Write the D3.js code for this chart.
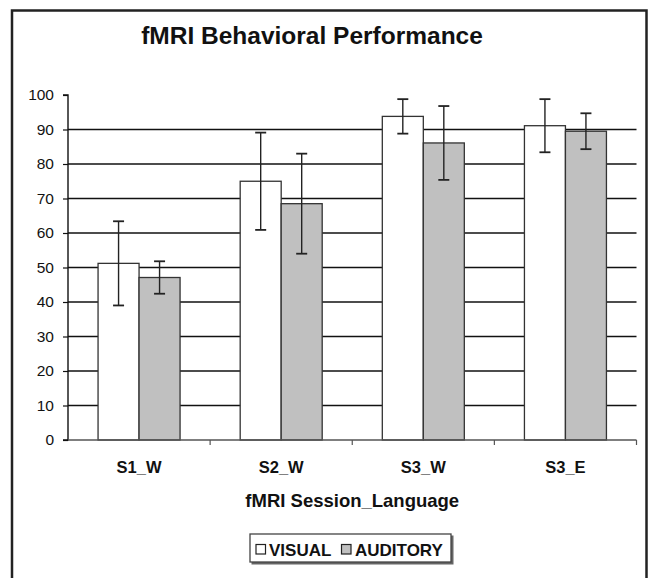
<!DOCTYPE html>
<html>
<head>
<meta charset="utf-8">
<script src="https://cdn.jsdelivr.net/npm/d3@7"></script>
<style>
  html, body { margin: 0; padding: 0; background: #fff; }
  svg { display: block; font-family: Arial, "Liberation Sans", sans-serif; }
</style>
</head>
<body>
<svg id="chart" width="649" height="578"></svg>
<script>
const categories = ["S1_W", "S2_W", "S3_W", "S3_E"];
const seriesNames = ["VISUAL", "AUDITORY"];
const visual = [51.2, 75.0, 93.8, 91.1];
const visualErr = [12.2, 14.1, 5.0, 7.7];
const auditory = [47.1, 68.5, 86.1, 89.5];
const auditoryErr = [4.7, 14.5, 10.7, 5.2];
const yTicks = [0, 10, 20, 30, 40, 50, 60, 70, 80, 90, 100];
const gridValues = [10, 20, 30, 40, 50, 60, 70, 80, 90];

const fills = ["#ffffff", "#c0c0c0"];

(function () {
const svg = d3.select("#chart");
const pLeft = 68, pRight = 636.5, pTop = 95, pBottom = 440;

// outer frame
svg.append("rect")
  .attr("x", 12).attr("y", 10.5).attr("width", 634.5).attr("height", 580)
  .attr("fill", "none").attr("stroke", "#222").attr("stroke-width", 2.5);

const x0 = d3.scaleBand().domain(categories).range([pLeft, pRight])
  .paddingInner(0.423).paddingOuter(0.2115);
const x1 = d3.scaleBand().domain(seriesNames).range([0, x0.bandwidth()]);
const y = d3.scaleLinear().domain([0, 100]).range([pBottom, pTop]);

// gridlines
svg.append("g").selectAll("line").data(gridValues).join("line")
  .attr("x1", pLeft).attr("x2", pRight)
  .attr("y1", d => y(d)).attr("y2", d => y(d))
  .attr("stroke", "#111").attr("stroke-width", 1.5);

// data table
const rows = categories.map((c, i) => ({
  cat: c,
  vals: [
    { s: seriesNames[0], v: visual[i], e: visualErr[i], fill: fills[0] },
    { s: seriesNames[1], v: auditory[i], e: auditoryErr[i], fill: fills[1] }
  ]
}));

const groups = svg.append("g").selectAll("g").data(rows).join("g")
  .attr("transform", d => `translate(${x0(d.cat)},0)`);

groups.selectAll("rect").data(d => d.vals).join("rect")
  .attr("x", d => x1(d.s))
  .attr("y", d => y(d.v))
  .attr("width", x1.bandwidth())
  .attr("height", d => pBottom - y(d.v))
  .attr("fill", d => d.fill)
  .attr("stroke", "#333").attr("stroke-width", 1.3);

// error bars
const eb = groups.selectAll("g.err").data(d => d.vals).join("g").attr("class", "err");
eb.append("line")
  .attr("x1", d => x1(d.s) + x1.bandwidth() / 2)
  .attr("x2", d => x1(d.s) + x1.bandwidth() / 2)
  .attr("y1", d => y(d.v + d.e)).attr("y2", d => y(d.v - d.e))
  .attr("stroke", "#222").attr("stroke-width", 1.4);
eb.selectAll("line.cap").data(d => [
    { x: x1(d.s) + x1.bandwidth() / 2, yv: d.v + d.e },
    { x: x1(d.s) + x1.bandwidth() / 2, yv: d.v - d.e }
  ]).join("line").attr("class", "cap")
  .attr("x1", d => d.x - 5.5).attr("x2", d => d.x + 5.5)
  .attr("y1", d => y(d.yv)).attr("y2", d => y(d.yv))
  .attr("stroke", "#222").attr("stroke-width", 1.8);

// y axis
const yAxis = d3.axisLeft(y).tickValues(yTicks).tickSize(5).tickPadding(9).tickFormat(d3.format("d"));
const gy = svg.append("g").attr("transform", `translate(${pLeft},0)`).call(yAxis);
gy.select(".domain").attr("stroke", "#111").attr("stroke-width", 1.4).attr("d", `M-5,${pTop}H0V${pBottom}H-5`);
gy.selectAll(".tick line").attr("stroke", "#111").attr("stroke-width", 1.2);
gy.selectAll(".tick text").attr("font-size", 15.5).attr("fill", "#111")
  .attr("font-family", "Arial, 'Liberation Sans', sans-serif");

// x axis
const gx = svg.append("g").attr("transform", `translate(0,${pBottom})`);
gx.append("line").attr("x1", pLeft).attr("x2", pRight).attr("y1", 0).attr("y2", 0)
  .attr("stroke", "#555").attr("stroke-width", 1.4);
const boundaries = categories.map((c) => x0(c) - x0.step() * x0.paddingInner() / 2 + x0.step());
gx.selectAll("line.tk").data(boundaries).join("line").attr("class", "tk")
  .attr("x1", d => d).attr("x2", d => d).attr("y1", 0).attr("y2", 5)
  .attr("stroke", "#555").attr("stroke-width", 1.2);
gx.selectAll("text").data(categories).join("text")
  .attr("x", d => x0(d) + x0.bandwidth() / 2)
  .attr("y", 33)
  .attr("text-anchor", "middle")
  .attr("font-size", 16.5).attr("font-weight", "bold").attr("fill", "#111")
  .text(d => d);

// titles
svg.append("text").attr("x", 312).attr("y", 43.5).attr("text-anchor", "middle")
  .attr("font-size", 24.5).attr("font-weight", "bold").attr("fill", "#111")
  .text("fMRI Behavioral Performance");
svg.append("text").attr("x", (pLeft + pRight) / 2).attr("y", 507).attr("text-anchor", "middle")
  .attr("font-size", 18.5).attr("font-weight", "bold").attr("fill", "#111")
  .text("fMRI Session_Language");

// legend
const lg = svg.append("g");
lg.append("rect").attr("x", 251.5).attr("y", 535.5).attr("width", 202).attr("height", 29)
  .attr("fill", "#666");
lg.append("rect").attr("x", 250).attr("y", 534).attr("width", 201).attr("height", 28)
  .attr("fill", "#fff").attr("stroke", "#444").attr("stroke-width", 1.3);
const legendItems = [
  { name: seriesNames[0], fill: fills[0], sx: 256, tx: 269 },
  { name: seriesNames[1], fill: fills[1], sx: 341.5, tx: 355 }
];
lg.selectAll("rect.sw").data(legendItems).join("rect").attr("class", "sw")
  .attr("x", d => d.sx).attr("y", 544.5).attr("width", 9.5).attr("height", 9.5)
  .attr("fill", d => d.fill).attr("stroke", "#222").attr("stroke-width", 1.2);
lg.selectAll("text").data(legendItems).join("text")
  .attr("x", d => d.tx).attr("y", 556)
  .attr("font-size", 17).attr("font-weight", "bold").attr("fill", "#111")
  .text(d => d.name);
})();
</script>
</body>
</html>
